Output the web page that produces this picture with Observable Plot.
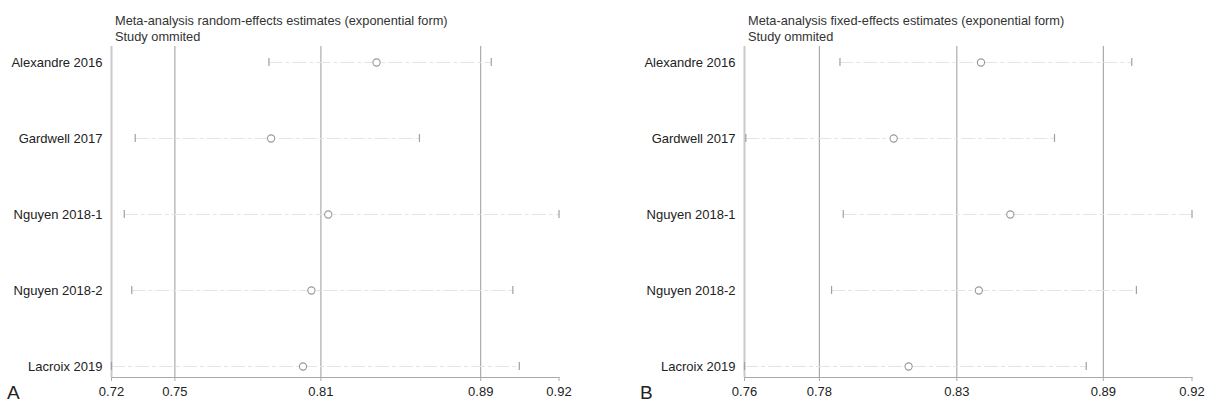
<!DOCTYPE html>
<html><head><meta charset="utf-8">
<script src="https://cdn.jsdelivr.net/npm/d3@7"></script>
<script src="https://cdn.jsdelivr.net/npm/@observablehq/plot@0.6"></script>
<style>
body{margin:0;background:#fff;font-family:"Liberation Sans",Arial,sans-serif;}
#wrap{position:relative;width:1209px;height:404px;display:flex;overflow:hidden;}
.panel{position:relative;}
.title{font-size:12.8px;line-height:16px;color:#333;padding-top:13px;height:29px;white-space:nowrap;}
.tag{position:absolute;font-size:19px;line-height:19px;color:#222;}
</style></head><body>
<div id="wrap"></div>
<script>
const studies = ["Alexandre 2016", "Gardwell 2017", "Nguyen 2018-1", "Nguyen 2018-2", "Lacroix 2019"];

// Panel A: random-effects, study omitted
const randomEst   = [0.8394, 0.7905, 0.8170, 0.8092, 0.8053];
const randomLower = [0.7895, 0.7275, 0.7224, 0.7259, 0.7165];
const randomUpper = [0.8926, 0.8593, 0.9240, 0.9026, 0.9056];
const randomTicks = [0.7165, 0.7459, 0.8136, 0.8877, 0.9240];
const randomTickLabels = ["0.72", "0.75", "0.81", "0.89", "0.92"];

// Panel B: fixed-effects, study omitted
const fixedEst   = [0.8422, 0.8100, 0.8530, 0.8414, 0.8155];
const fixedLower = [0.7902, 0.7555, 0.7914, 0.7871, 0.7550];
const fixedUpper = [0.8978, 0.8693, 0.9200, 0.8995, 0.8810];
const fixedTicks = [0.7550, 0.7826, 0.8333, 0.8873, 0.9200];
const fixedTickLabels = ["0.76", "0.78", "0.83", "0.89", "0.92"];

const titleA = ["Meta-analysis random-effects estimates (exponential form)", "Study ommited"];
const titleB = ["Meta-analysis fixed-effects estimates (exponential form)", "Study ommited"];

function panel(cfg) {
  const div = document.createElement("div");
  div.className = "panel";
  div.style.width = cfg.width + "px";
  const t = document.createElement("div");
  t.className = "title";
  t.style.paddingLeft = cfg.titleLeft + "px";
  t.innerHTML = cfg.title.join("<br>");
  div.appendChild(t);
  const rows = studies.map((s, i) => ({study: s, est: cfg.est[i], lo: cfg.lo[i], hi: cfg.hi[i]}));
  const ticks = cfg.ticks, labels = cfg.labels;
  const chart = Plot.plot({
    width: cfg.width, height: 362,
    marginLeft: cfg.marginLeft, marginRight: cfg.marginRight, marginTop: 4, marginBottom: 27,
    style: {fontFamily: "'Liberation Sans', Arial, sans-serif", fontSize: "13px", color: "#222", background: "#fff"},
    x: {domain: [ticks[0], ticks[ticks.length - 1]]},
    y: {type: "band", domain: studies, range: [15, 328], paddingInner: 0.895, paddingOuter: 0, align: 0.5},
    marks: [
      Plot.ruleX(ticks.slice(1, ticks.length - 1), {stroke: "#9a9a9a", strokeWidth: 1}),
      Plot.ruleX([ticks[0]], {stroke: "#cacaca", strokeWidth: 2}),
      Plot.frame({anchor: "bottom", stroke: "#aaa"}),
      Plot.axisX(ticks, {tickFormat: d => labels[ticks.indexOf(d)], tickSize: 4, tickPadding: 5, stroke: "#aaa", fill: "#222", fontSize: 13, label: null}),
      Plot.axisY({tickSize: 0, tickPadding: 9, fill: "#222", fontSize: 13, label: null}),
      Plot.ruleY(rows, {y: "study", x1: "lo", x2: "hi", stroke: "#e4e4e4", strokeWidth: 1, strokeDasharray: "14,3,4,3"}),
      Plot.tickX(rows, {x: "lo", y: "study", stroke: "#a0a0a0", strokeWidth: 1.2}),
      Plot.tickX(rows, {x: "hi", y: "study", stroke: "#a0a0a0", strokeWidth: 1.2}),
      Plot.dot(rows, {x: "est", y: "study", r: 3.6, stroke: "#999", fill: "white", strokeWidth: 1.1})
    ]
  });
  div.appendChild(chart);
  const tag = document.createElement("div");
  tag.className = "tag";
  tag.textContent = cfg.tag;
  tag.style.left = cfg.tagLeft + "px";
  tag.style.top = "383px";
  div.appendChild(tag);
  return div;
}

const wrap = document.getElementById("wrap");
wrap.appendChild(panel({
  width: 604, marginLeft: 111, marginRight: 45.5, titleLeft: 115,
  title: titleA, est: randomEst, lo: randomLower, hi: randomUpper,
  ticks: randomTicks, labels: randomTickLabels, tag: "A", tagLeft: 7
}));
wrap.appendChild(panel({
  width: 605, marginLeft: 140, marginRight: 17.5, titleLeft: 144,
  title: titleB, est: fixedEst, lo: fixedLower, hi: fixedUpper,
  ticks: fixedTicks, labels: fixedTickLabels, tag: "B", tagLeft: 36
}));
</script>
</body></html>
